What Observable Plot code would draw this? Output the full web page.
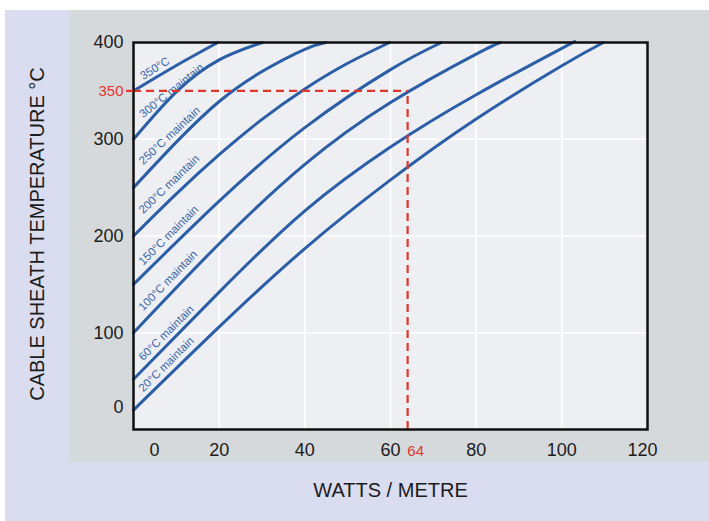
<!DOCTYPE html>
<html>
<head>
<meta charset="utf-8">
<script src="https://cdn.jsdelivr.net/npm/d3@7"></script>
<script src="https://cdn.jsdelivr.net/npm/@observablehq/plot@0.6"></script>
<style>
  html, body { margin: 0; padding: 0; background: #ffffff; }
  #page { position: relative; width: 709px; height: 521px; overflow: hidden; font-family: "Liberation Sans", Arial, sans-serif; }
  #lav { position: absolute; left: 5px; top: 10px; width: 704px; height: 511px; background: #dadcf0; }
  #gray { position: absolute; left: 69px; top: 10px; width: 640px; height: 452px; background: #d6d9dc; }
  #chart { position: absolute; left: 0; top: 0; }
</style>
</head>
<body>
<div id="page">
  <div id="lav"></div>
  <div id="gray"></div>
  <div id="chart"></div>
</div>
<script>
// ---- data ----
const seriesNames = ["350°C", "300°C maintain", "250°C maintain", "200°C maintain",
                     "150°C maintain", "100°C maintain", "60°C maintain", "20°C maintain"];

const w350 = [0, 9.5, 19.7];
const t350 = [350, 375, 400];

const w300 = [0, 10, 20, 30.1];
const t300 = [300, 349, 382, 400];

const w250 = [0, 10, 20, 30, 40, 44.9];
const t250 = [250, 297, 339, 370, 393, 400];

const w200 = [0, 10, 20, 30, 40, 50, 59.8];
const t200 = [200, 243.5, 284, 320.5, 352, 378.5, 400];

const w150 = [0, 20, 40, 60, 71.9];
const t150 = [150, 236, 312, 372, 400];

const w100 = [0, 20, 40, 60, 80, 85.7];
const t100 = [100, 192, 274, 338, 388, 400];

const w60 = [0, 20, 40, 60, 80, 100, 102.4];
const t60 = [52, 142, 226, 292, 346, 394, 399.5];

const w20 = [0, 20, 40, 60, 80, 100, 109.7];
const t20 = [20, 106, 187, 258, 321, 376, 400];

const xTicks = [20, 40, 60, 80, 100];
const yTicks = [100, 200, 300, 400];
const markW = 64;
const markT = 350;

// ---- build tables ----
const wList = [w350, w300, w250, w200, w150, w100, w60, w20];
const tList = [t350, t300, t250, t200, t150, t100, t60, t20];
const rows = seriesNames.flatMap((name, k) =>
  wList[k].map((w, i) => ({series: name, W: w, T: tList[k][i]})));

function interp(ws, ts, w) {
  for (let i = 1; i < ws.length; i++) {
    if (w <= ws[i]) {
      const f = (w - ws[i - 1]) / (ws[i] - ws[i - 1]);
      return ts[i - 1] + f * (ts[i] - ts[i - 1]);
    }
  }
  return ts[ts.length - 1];
}
const labelW = 2.3;
const labelRows = seriesNames.map((name, k) => ({name, W: labelW, T: interp(wList[k], tList[k], labelW)}));

// label styling (rotation and vertical offset), keyed by label
const labelStyle = {
  "350°C": {rotate: -32, dy: -5},
  "300°C maintain": {rotate: -39, dy: -10},
  "250°C maintain": {rotate: -43, dy: -12},
  "200°C maintain": {rotate: -44, dy: -12},
  "150°C maintain": {rotate: -45, dy: -9},
  "100°C maintain": {rotate: -46, dy: -11},
  "60°C maintain": {rotate: -45, dy: -8},
  "20°C maintain": {rotate: -45, dy: -8}
};

const blue = "#2b5ea7";
const red = "#e0362c";
const ink = "#1b1b1b";
const font = "\"Liberation Sans\", Arial, sans-serif";

const chart = Plot.plot({
  width: 709,
  height: 521,
  marginLeft: 133,
  marginRight: 62,
  marginTop: 42,
  marginBottom: 92,
  style: {background: "transparent", fontFamily: font, overflow: "visible"},
  x: {domain: [0, 120], axis: null},
  y: {domain: [0, 400], axis: null},
  marks: [
    Plot.frame({fill: "#eeeff2", stroke: null}),
    Plot.gridX(xTicks, {stroke: "#ffffff", strokeOpacity: 1, strokeWidth: 1.6}),
    Plot.gridY(yTicks.filter(d => d < 400), {stroke: "#ffffff", strokeOpacity: 1, strokeWidth: 1.6}),
    Plot.line(rows, {x: "W", y: "T", z: "series", stroke: blue, strokeWidth: 3, curve: "natural"}),
    ...labelRows.map(r => Plot.text([r], {
      x: "W", y: "T", text: "name",
      textAnchor: "start", lineAnchor: "bottom",
      rotate: labelStyle[r.name].rotate, dy: labelStyle[r.name].dy,
      fill: "#3a66a8", fontSize: 11.5
    })),
    Plot.ruleY([markT], {x1: 0, x2: markW, stroke: red, strokeWidth: 2.2, strokeDasharray: "8,5"}),
    Plot.ruleX([markW], {y1: 0, y2: markT, stroke: red, strokeWidth: 2.2, strokeDasharray: "8,5"}),
    Plot.frame({stroke: "#111111", strokeWidth: 2.5}),
    // axes
    Plot.axisX(xTicks, {tickSize: 0, tickPadding: 13.5, fontSize: 18, color: ink, label: null}),
    Plot.axisX([120], {tickSize: 0, tickPadding: 13.5, fontSize: 18, color: ink, dx: -5, label: null}),
    Plot.axisX([0], {tickSize: 0, tickPadding: 13.5, fontSize: 18, color: ink, dx: 21, label: null}),
    Plot.axisX([markW], {tickSize: 0, tickPadding: 15.5, fontSize: 15, color: red, dx: 8, label: null}),
    Plot.axisY(yTicks, {tickSize: 0, tickPadding: 10, fontSize: 18, color: ink, label: null}),
    Plot.axisY([0], {tickSize: 0, tickPadding: 10, fontSize: 18, color: ink, dy: -22, label: null}),
    Plot.axisY([markT], {tickSize: 7, tickPadding: 3, fontSize: 15, color: red, strokeWidth: 2.2, label: null}),
    // axis titles
    Plot.text(["CABLE SHEATH TEMPERATURE °C"], {frameAnchor: "left", textAnchor: "middle", rotate: -90, dx: -96, dy: -2, fontSize: 20, fill: ink}),
    Plot.text(["WATTS / METRE"], {frameAnchor: "bottom", dy: 67, fontSize: 20, fill: ink})
  ]
});
document.getElementById("chart").appendChild(chart);
</script>
</body>
</html>
